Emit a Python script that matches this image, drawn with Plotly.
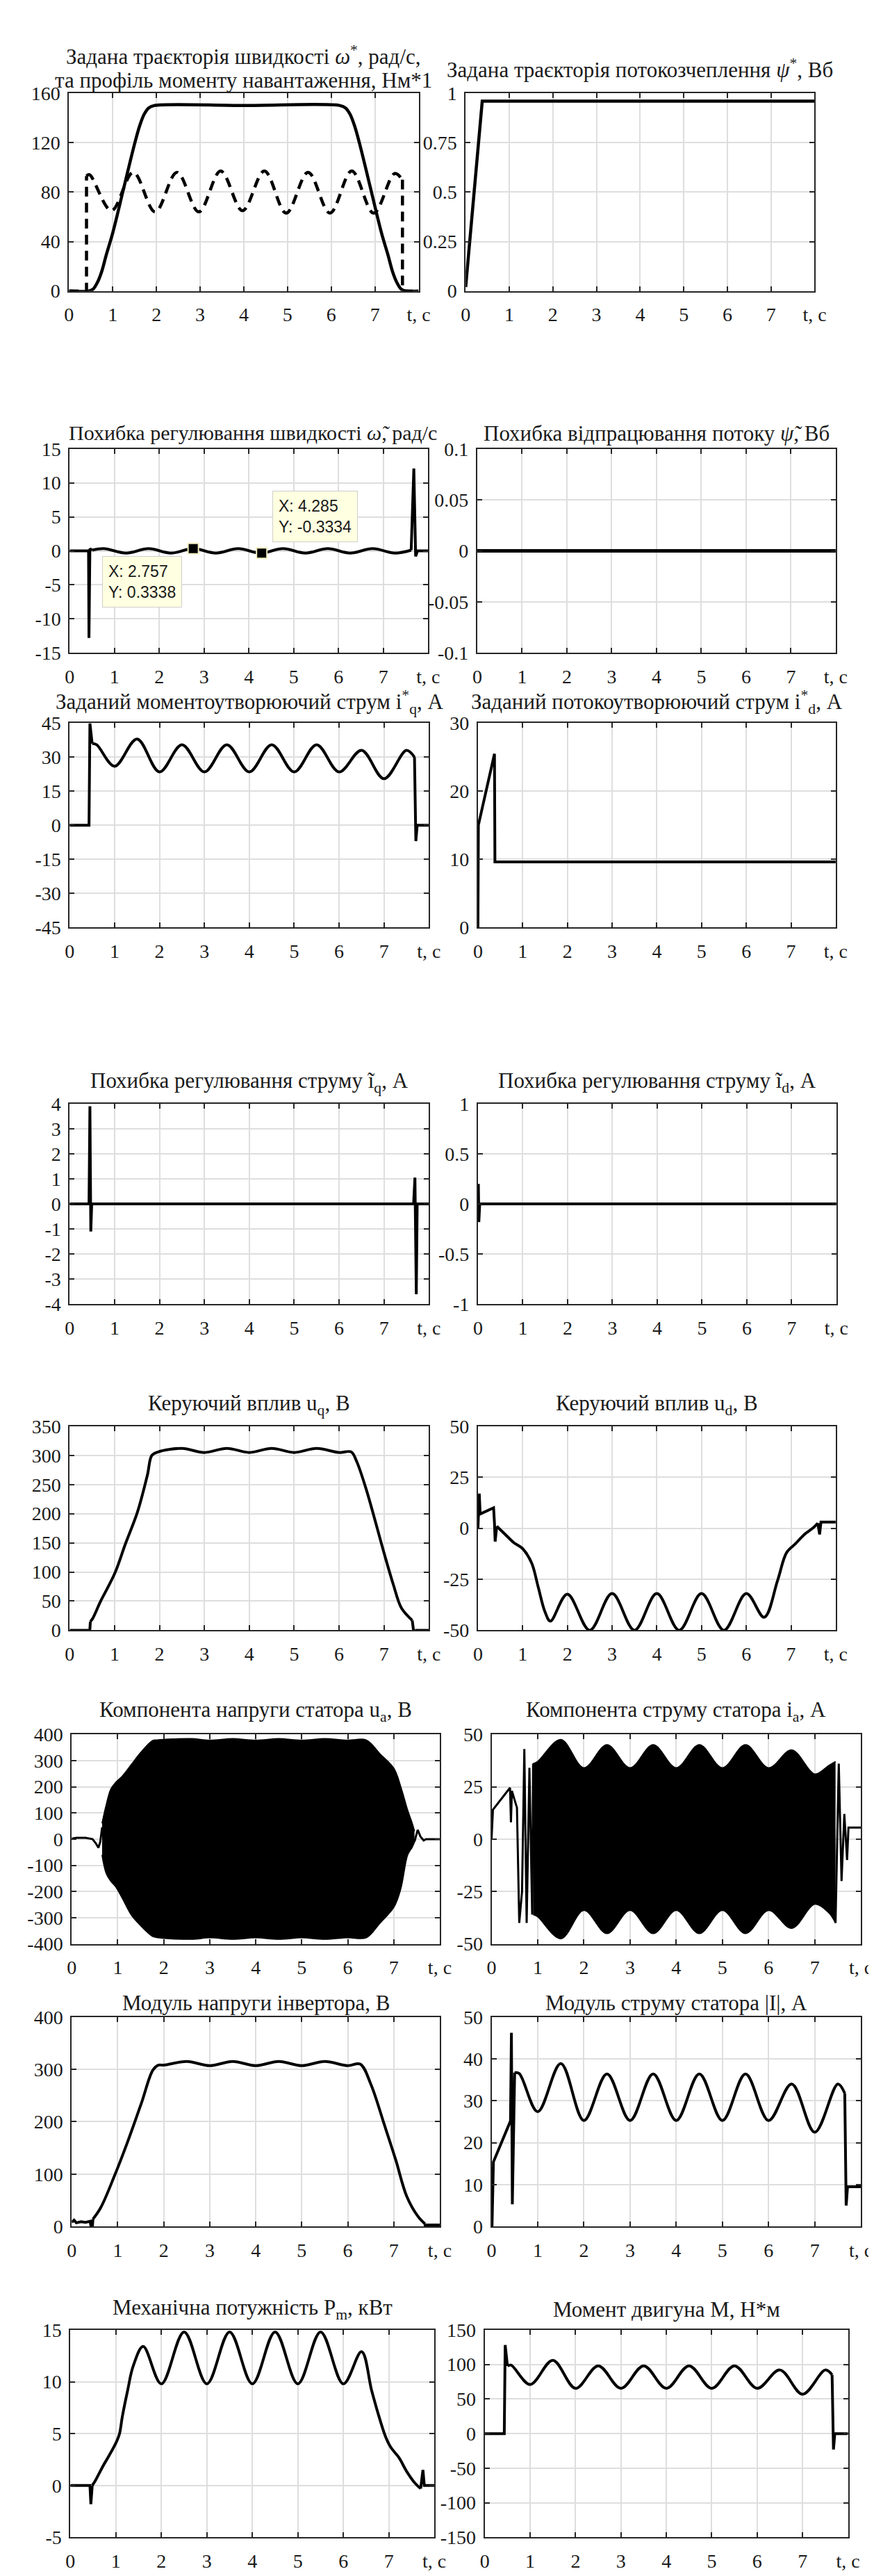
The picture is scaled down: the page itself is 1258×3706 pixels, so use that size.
import plotly.graph_objects as go

# ---------------- DATA ----------------
# Row 1 left: speed reference and load torque profile
w_ref_t = [0, 0.45, 0.55, 0.65, 0.75, 0.85, 1.0, 1.25, 1.5, 1.62, 1.72, 1.82, 1.95, 4.0, 6.2, 6.33, 6.43, 6.53, 6.65, 6.9, 7.15, 7.3, 7.4, 7.5, 7.6, 7.7, 8.0]
w_ref_v = [0, 0, 1.5, 7, 16, 29, 47, 83, 119, 134, 143, 148, 150, 150, 150, 148, 143, 134, 119, 83, 47, 29, 16, 7, 1.5, 0, 0]
tl_step_t = [0, 0.4, 0.4]
tl_step_v = [0, 0, 93]
tl_wave_t = [0.4, 0.47, 0.97, 1.47, 1.97, 2.47, 2.97, 3.47, 3.97, 4.47, 4.97, 5.47, 5.97, 6.47, 6.97, 7.45, 7.63]
tl_wave_v = [93, 94, 65, 96, 64, 96, 64, 97, 65, 97, 63, 96, 63, 97, 63, 95, 90]
tl_end_t = [7.63, 7.63, 8.0]
tl_end_v = [90, 0, 0]
# Row 1 right: flux reference
psi_t = [0, 0.38, 8]
psi_v = [0.02, 0.96, 0.96]
# Row 2 left: speed error
we_s1_t = [0, 0.42, 0.43, 0.45, 0.5]
we_s1_v = [0, 0, -12.8, 0.3, 0.1]
we_w_t = [0.5, 0.76, 1.26, 1.76, 2.26, 2.76, 3.26, 3.76, 4.26, 4.76, 5.26, 5.76, 6.26, 6.76, 7.26, 7.62]
we_w_v = [0.1, 0.33, -0.33, 0.33, -0.33, 0.33, -0.33, 0.33, -0.33, 0.33, -0.33, 0.33, -0.33, 0.33, -0.33, 0.1]
we_s2_t = [7.62, 7.68, 7.72, 7.76, 8]
we_s2_v = [0.1, 12.1, -0.8, 0, 0]
tip_x = [2.757, 4.285]
tip_y = [0.3338, -0.3334]
# Row 2 right: flux error
pe_t = [0, 8]
pe_v = [0, 0]
# Row 3 left: iq reference
iq_s1_t = [0, 0.43, 0.45, 0.5]
iq_s1_v = [0, 0, 45, 36]
iq_w_t = [0.5, 0.6, 1.0, 1.5, 2.0, 2.5, 3.0, 3.5, 4.0, 4.5, 5.0, 5.5, 6.0, 6.5, 7.0, 7.5, 7.68]
iq_w_v = [36, 35.5, 26, 38, 23.5, 35.5, 23.5, 35.5, 23.5, 35.5, 23.5, 35.5, 23.5, 33, 20.5, 33, 30]
iq_s2_t = [7.68, 7.71, 7.74, 8]
iq_s2_v = [30, -7, 0, 0]
# Row 3 right: id reference
id_t = [0, 0.01, 0.37, 0.38, 8]
id_v = [0, 15, 25.5, 9.6, 9.6]
# Row 4: current errors
iqe_t = [0, 0.43, 0.45, 0.47, 0.49, 7.66, 7.69, 7.72, 7.74, 8]
iqe_v = [0, 0, 3.9, -1.1, 0, 0, 1.05, -3.6, 0, 0]
ide_t = [0, 0.01, 0.02, 0.04, 8]
ide_v = [0, 0.2, -0.18, 0, 0]
# Row 5 left: uq
uq_s1_t = [0, 0.42, 0.44, 0.46]
uq_s1_v = [0, 0, -10, 15]
uq_w_t = [0.46, 0.51, 0.69, 1.0, 1.24, 1.51, 1.73, 1.83, 1.97, 2.5, 3.0, 3.5, 4.0, 4.5, 5.0, 5.5, 6.0, 6.27, 6.39, 6.6, 7.0, 7.21, 7.39, 7.63]
uq_w_v = [15, 20, 50, 97, 148, 203, 266, 300, 306, 312, 305, 312, 305, 312, 305, 312, 305, 306, 290, 243, 133, 78, 38, 17]
uq_s2_t = [7.63, 7.69, 7.72, 8]
uq_s2_v = [17, -20, 0, 0]
# Row 5 right: ud
ud_s1_t = [0, 0.01, 0.03, 0.05, 0.35, 0.37, 0.385, 0.42]
ud_s1_v = [0, 8, 17, 7, 10, 2.5, -6.5, 1]
ud_w_t = [0.42, 0.61, 0.8, 1.0, 1.2, 1.35, 1.5, 1.62, 2.0, 2.5, 3.0, 3.5, 4.0, 4.5, 5.0, 5.5, 6.0, 6.4, 6.7, 6.9, 7.1, 7.3, 7.5, 7.6]
ud_w_v = [1, -3, -7, -10, -17, -29, -41, -45.5, -32.3, -50, -32, -50, -32, -50, -32, -50, -32, -43.6, -25.6, -12, -7.6, -3, 0.3, 2.5]
ud_s2_t = [7.6, 7.64, 7.67, 7.7, 8]
ud_s2_v = [2.5, -3, 3, 3, 3]
# Row 6 left: ua (envelope of fast oscillation)
ua_q1_t = [0, 0.1, 0.3, 0.45, 0.52, 0.58, 0.62, 0.66]
ua_q1_v = [2, 5, 5, 0, -15, -33, -10, 45]
ua_env_t = [0.66, 0.75, 0.85, 0.95, 1.1, 1.3, 1.5, 1.75, 1.85, 2.6, 3.0, 3.5, 4.0, 4.5, 5.0, 5.5, 6.0, 6.4, 6.7, 7.0, 7.15, 7.3, 7.4, 7.45]
ua_env_hi = [60, 130, 190, 215, 240, 285, 330, 375, 378, 383, 377, 383, 377, 383, 377, 383, 377, 378, 325, 270, 200, 110, 60, 30]
ua_env_lo = [-60, -130, -160, -180, -225, -290, -330, -370, -375, -382, -376, -382, -376, -382, -376, -382, -376, -376, -320, -260, -190, -60, -30, -10]
ua_q2_t = [7.45, 7.52, 7.58, 7.65, 7.7, 8]
ua_q2_v = [-10, 35, 10, -5, 0, 0]
# Row 6 right: ia
ia_tr_t = [0, 0.03, 0.4, 0.42, 0.44, 0.55, 0.6, 0.66, 0.71, 0.76, 0.82, 0.88, 0.9]
ia_tr_v = [0, 14, 24.5, 8, 23, 15, -40, -25, 43, -40, 34, -36, 36]
ia_env_t = [0.9, 1.0, 1.5, 2.0, 2.5, 3.0, 3.5, 4.0, 4.5, 5.0, 5.5, 6.0, 6.5, 7.0, 7.3, 7.45]
ia_env_hi = [36, 37, 47.5, 34, 45, 34, 45, 34, 45, 34, 45, 34, 42.5, 31, 35, 37]
ia_env_lo = [-36, -37, -47.5, -34, -45, -34, -45, -34, -45, -34, -45, -34, -42.5, -31, -35, -40]
ia_tl_t = [7.45, 7.52, 7.58, 7.64, 7.7, 7.73, 8]
ia_tl_v = [-40, 36, -20, 12, -10, 5.5, 5.5]
# Row 7 left: |U|
um_s1_t = [0, 0.05, 0.1, 0.2, 0.3, 0.4, 0.44, 0.46]
um_s1_v = [8, 12, 7, 9, 8, 10, -12, 14]
um_w_t = [0.46, 0.63, 0.93, 1.22, 1.52, 1.76, 1.88, 2.0, 2.5, 3.0, 3.5, 4.0, 4.5, 5.0, 5.5, 6.0, 6.27, 6.5, 6.8, 7.04, 7.28, 7.52, 7.68]
um_w_v = [14, 36, 97, 163, 237, 298, 308, 308, 315, 307, 315, 307, 315, 307, 315, 307, 310, 272, 193, 128, 58, 20, 5]
um_s2_t = [7.68, 7.7, 7.72, 8]
um_s2_v = [5, -15, 3, 3]
# Row 7 right: |I|
im_s1_t = [0, 0.01, 0.04, 0.41, 0.43, 0.45, 0.5]
im_s1_v = [0, 0, 15.4, 25.2, 46.2, 5.3, 36.7]
im_w_t = [0.5, 0.6, 1.0, 1.5, 2.0, 2.5, 3.0, 3.5, 4.0, 4.5, 5.0, 5.5, 6.0, 6.5, 7.0, 7.5, 7.65]
im_w_v = [36.7, 36.5, 27.4, 38.9, 25.3, 36.4, 25.3, 36.4, 25.3, 36.4, 25.3, 36.4, 25.3, 34, 22.5, 34, 31.8]
im_s2_t = [7.65, 7.68, 7.71, 8]
im_s2_v = [31.8, 5, 9.5, 9.5]
# Row 8 left: mechanical power
pm_s1_t = [0, 0.43, 0.45, 0.48]
pm_s1_v = [0, 0, -1.8, 0]
pm_w_t = [0.48, 0.54, 0.72, 0.84, 1.0, 1.08, 1.14, 1.26, 1.38, 1.6, 2.0, 2.5, 3.0, 3.5, 4.0, 4.5, 5.0, 5.5, 6.0, 6.4, 6.62, 6.76, 6.92, 7.04, 7.22, 7.4, 7.58, 7.7]
pm_w_v = [0, 0.4, 1.9, 2.8, 4.1, 5, 6.6, 9.2, 11.5, 13.4, 9.8, 14.8, 9.8, 14.8, 9.8, 14.8, 9.8, 14.8, 9.8, 12.9, 9.2, 7, 4.8, 3.7, 2.7, 1.3, 0.2, -0.3]
pm_s2_t = [7.7, 7.75, 7.78, 8]
pm_s2_v = [-0.3, 1.5, 0, 0]
# Row 8 right: motor torque
mt_s1_t = [0, 0.43, 0.45, 0.5]
mt_s1_v = [0, 0, 128, 97.8]
mt_w_t = [0.5, 0.58, 1.0, 1.5, 2.0, 2.5, 3.0, 3.5, 4.0, 4.5, 5.0, 5.5, 6.0, 6.5, 7.0, 7.5, 7.65]
mt_w_v = [97.8, 99, 71, 106, 65.5, 98, 65.5, 98, 65.5, 98, 65.5, 98, 65.5, 92, 57, 92, 85]
mt_s2_t = [7.65, 7.68, 7.71, 8]
mt_s2_v = [85, -23, 0, 0]

# tick values
x_ticks = [0, 1, 2, 3, 4, 5, 6, 7, 8]
x_ticktext = ['0', '1', '2', '3', '4', '5', '6', '7', 't, c']
y_ticks = {
    1: [0, 40, 80, 120, 160], 2: [0, 0.25, 0.5, 0.75, 1],
    3: [-15, -10, -5, 0, 5, 10, 15], 4: [-0.1, -0.05, 0, 0.05, 0.1],
    5: [-45, -30, -15, 0, 15, 30, 45], 6: [0, 10, 20, 30],
    7: [-4, -3, -2, -1, 0, 1, 2, 3, 4], 8: [-1, -0.5, 0, 0.5, 1],
    9: [0, 50, 100, 150, 200, 250, 300, 350], 10: [-50, -25, 0, 25, 50],
    11: [-400, -300, -200, -100, 0, 100, 200, 300, 400], 12: [-50, -25, 0, 25, 50],
    13: [0, 100, 200, 300, 400], 14: [0, 10, 20, 30, 40, 50],
    15: [-5, 0, 5, 10, 15], 16: [-150, -100, -50, 0, 50, 100, 150],
}

titles = {
    2: 'Задана траєкторія потокозчеплення <i>ψ</i><sup>*</sup>, Вб',
    3: 'Похибка регулювання швидкості <i>ω̃</i>, рад/с',
    4: 'Похибка відпрацювання потоку <i>ψ̃</i>, Вб',
    5: 'Заданий моментоутворюючий струм i<sup>*</sup><sub>q</sub>, А',
    6: 'Заданий потокоутворюючий струм i<sup>*</sup><sub>d</sub>, А',
    7: 'Похибка регулювання струму ĩ<sub>q</sub>, А',
    8: 'Похибка регулювання струму ĩ<sub>d</sub>, А',
    9: 'Керуючий вплив u<sub>q</sub>, В',
    10: 'Керуючий вплив u<sub>d</sub>, В',
    11: 'Компонента напруги статора u<sub>a</sub>, В',
    12: 'Компонента струму статора i<sub>a</sub>, А',
    13: 'Модуль напруги інвертора, В',
    14: 'Модуль струму статора |I|, А',
    15: 'Механічна потужність P<sub>m</sub>, кВт',
    16: 'Момент двигуна М, Н*м',
}
title1_l1 = 'Задана траєкторія швидкості <i>ω</i><sup>*</sup>, рад/с,'
title1_l2 = 'та профіль моменту навантаження, Нм*1'

# ---------------- LAYOUT GEOMETRY (pixels) ----------------
W, H = 1258, 3706
boxes = {
    1: (86, 599, 112, 399), 2: (668, 1180, 112, 399),
    3: (87, 613, 628, 924), 4: (685, 1211, 628, 924),
    5: (87, 614, 1026, 1322), 6: (686, 1211, 1026, 1322),
    7: (87, 614, 1578, 1869), 8: (686, 1212, 1578, 1869),
    9: (87, 614, 2046, 2342), 10: (686, 1211, 2046, 2342),
    11: (90, 630, 2493, 2797), 12: (706, 1248, 2493, 2797),
    13: (90, 630, 2903, 3207), 14: (706, 1248, 2903, 3207),
    15: (88, 622, 3357, 3658), 16: (696, 1229, 3357, 3658),
}
title_y = {1: 78, 2: 76, 3: 605, 4: 606, 5: 995, 6: 995, 7: 1547, 8: 1547,
           9: 2015, 10: 2015, 11: 2460, 12: 2460, 13: 2883, 14: 2883, 15: 3327, 16: 3327}
title_dx = {3: 6}
title_fs = {3: 30}

FONT = 'Liberation Serif'
TXT = '#1a1a1a'
fig = go.Figure()


def ids(n):
    return ('x' if n == 1 else f'x{n}', 'y' if n == 1 else f'y{n}')


def line(n, t, v, shape='linear', width=4, dash='solid', fill=None):
    xa, ya = ids(n)
    fig.add_trace(go.Scatter(x=t, y=v, mode='lines', xaxis=xa, yaxis=ya,
                             line=dict(color='black', width=width, shape=shape, dash=dash),
                             fill=fill, fillcolor='black' if fill else None,
                             showlegend=False, hoverinfo='skip'))


# row 1
line(1, w_ref_t, w_ref_v, 'spline', 4.5)
line(1, tl_step_t, tl_step_v, 'linear', 4.5, '14px,9px')
line(1, tl_wave_t, tl_wave_v, 'spline', 4.5, '14px,9px')
line(1, tl_end_t, tl_end_v, 'linear', 4.5, '14px,9px')
line(2, psi_t, psi_v, 'linear', 4.5)
# row 2
line(3, we_s1_t, we_s1_v, 'linear', 4)
line(3, we_w_t, we_w_v, 'spline', 4)
line(3, we_s2_t, we_s2_v, 'linear', 4)
fig.add_trace(go.Scatter(x=tip_x, y=tip_y, mode='markers', xaxis='x3', yaxis='y3',
                         marker=dict(symbol='square', size=15, color='black',
                                     line=dict(color='#f2eec0', width=2)),
                         showlegend=False, hoverinfo='skip'))
line(4, pe_t, pe_v, 'linear', 5)
# row 3
line(5, iq_s1_t, iq_s1_v, 'linear', 4)
line(5, iq_w_t, iq_w_v, 'spline', 4)
line(5, iq_s2_t, iq_s2_v, 'linear', 4)
line(6, id_t, id_v, 'linear', 4)
# row 4
line(7, iqe_t, iqe_v, 'linear', 4)
line(8, ide_t, ide_v, 'linear', 4)
# row 5
line(9, uq_s1_t, uq_s1_v, 'linear', 4)
line(9, uq_w_t, uq_w_v, 'spline', 4)
line(9, uq_s2_t, uq_s2_v, 'linear', 4)
line(10, ud_s1_t, ud_s1_v, 'linear', 4)
line(10, ud_w_t, ud_w_v, 'spline', 4)
line(10, ud_s2_t, ud_s2_v, 'linear', 4)
# row 6
line(11, ua_q1_t, ua_q1_v, 'linear', 3)
line(11, ua_env_t, ua_env_lo, 'spline', 2)
line(11, ua_env_t, ua_env_hi, 'spline', 2, fill='tonexty')
line(11, ua_q2_t, ua_q2_v, 'linear', 3)
line(12, ia_tr_t, ia_tr_v, 'linear', 3)
line(12, ia_env_t, ia_env_lo, 'spline', 2)
line(12, ia_env_t, ia_env_hi, 'spline', 2, fill='tonexty')
line(12, ia_tl_t, ia_tl_v, 'linear', 3)
# row 7
line(13, um_s1_t, um_s1_v, 'linear', 4)
line(13, um_w_t, um_w_v, 'spline', 4)
line(13, um_s2_t, um_s2_v, 'linear', 4)
line(14, im_s1_t, im_s1_v, 'linear', 4)
line(14, im_w_t, im_w_v, 'spline', 4)
line(14, im_s2_t, im_s2_v, 'linear', 4)
# row 8
line(15, pm_s1_t, pm_s1_v, 'linear', 4)
line(15, pm_w_t, pm_w_v, 'spline', 4)
line(15, pm_s2_t, pm_s2_v, 'linear', 4)
line(16, mt_s1_t, mt_s1_v, 'linear', 4)
line(16, mt_w_t, mt_w_v, 'spline', 4)
line(16, mt_s2_t, mt_s2_v, 'linear', 4)


def fmt(v):
    return '%g' % v


layout = dict(width=W, height=H, margin=dict(l=0, r=0, t=0, b=0),
              paper_bgcolor='white', plot_bgcolor='white', showlegend=False,
              font=dict(family=FONT, color=TXT, size=28))
annotations = []
for n, (x0, x1, y0, y1) in boxes.items():
    xa, ya = ids(n)
    common = dict(showline=True, linecolor='#262626', linewidth=2, mirror='ticks',
                  ticks='inside', ticklen=7, tickwidth=1.5, tickcolor='#262626',
                  showgrid=True, gridcolor='#dedede', gridwidth=1.5, zeroline=False,
                  tickfont=dict(family=FONT, size=28, color=TXT), fixedrange=True)
    yt = y_ticks[n]
    layout['xaxis' if n == 1 else f'xaxis{n}'] = dict(
        domain=[x0 / W, x1 / W], anchor=ya, range=[0, 8], ticklabelstandoff=8,
        tickmode='array', tickvals=x_ticks, ticktext=x_ticktext, **common)
    layout['yaxis' if n == 1 else f'yaxis{n}'] = dict(
        domain=[1 - y1 / H, 1 - y0 / H], anchor=xa, range=[yt[0], yt[-1]], ticklabelstandoff=5,
        tickmode='array', tickvals=yt, ticktext=[fmt(v) for v in yt], **common)
    if n in titles:
        cx = (x0 + x1) / 2 + title_dx.get(n, 0)
        annotations.append(dict(text=titles[n], x=cx / W, y=1 - title_y[n] / H,
                                xref='paper', yref='paper', xanchor='center', yanchor='middle',
                                showarrow=False,
                                font=dict(family=FONT, size=title_fs.get(n, 31), color=TXT)))

x0, x1 = boxes[1][0], boxes[1][1]
annotations.append(dict(text=title1_l1, x=(x0 + x1) / 2 / W, y=1 - 57 / H, xref='paper', yref='paper',
                        xanchor='center', yanchor='middle', showarrow=False,
                        font=dict(family=FONT, size=31, color=TXT)))
annotations.append(dict(text=title1_l2, x=(x0 + x1) / 2 / W, y=1 - 93 / H, xref='paper', yref='paper',
                        xanchor='center', yanchor='middle', showarrow=False,
                        font=dict(family=FONT, size=31, color=TXT)))

# data tips
tip_font = dict(family='Liberation Sans Narrow, Liberation Sans', size=23, color=TXT)
annotations.append(dict(text='X: %s<br>Y: %s' % (tip_x[0], tip_y[0]), x=0.73, y=-0.8, xref='x3', yref='y3',
                        xanchor='left', yanchor='top', showarrow=False, align='left',
                        bgcolor='#ffffe1', bordercolor='#cfcfcf', borderwidth=1, borderpad=8, font=tip_font))
annotations.append(dict(text='X: %s<br>Y: %s' % (tip_x[1], tip_y[1]), x=4.52, y=8.8, xref='x3', yref='y3',
                        xanchor='left', yanchor='top', showarrow=False, align='left',
                        bgcolor='#ffffe1', bordercolor='#cfcfcf', borderwidth=1, borderpad=8, font=tip_font))
layout['annotations'] = annotations
fig.update_layout(**layout)
fig.write_html('out.html')
